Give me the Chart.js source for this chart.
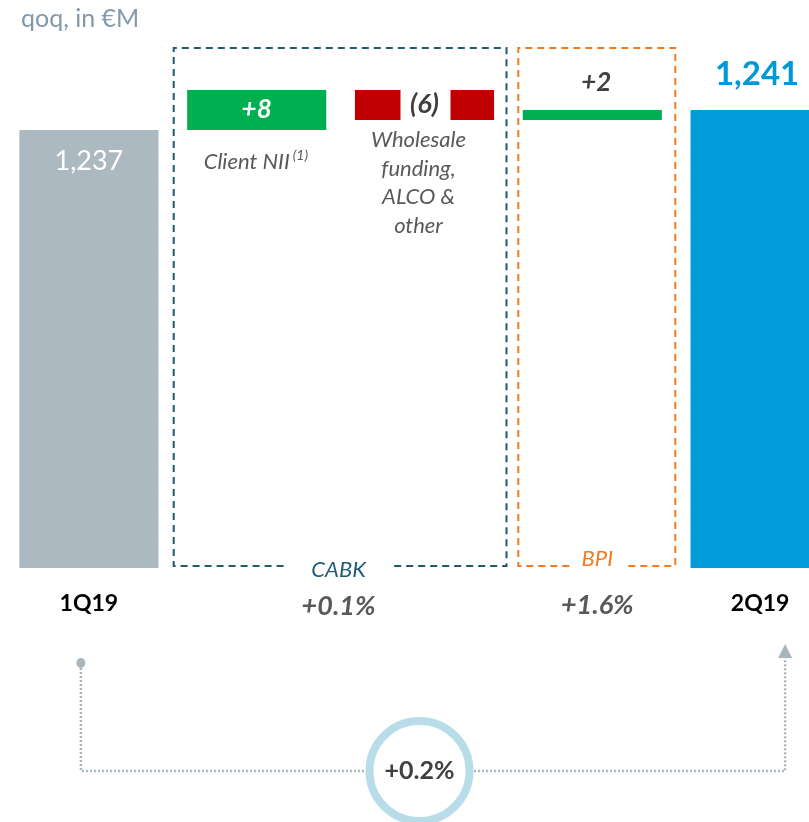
<!DOCTYPE html>
<html>
<head>
<meta charset="utf-8">
<script src="https://cdn.jsdelivr.net/npm/chart.js@4.4.1/dist/chart.umd.min.js"></script>
<style>
  html, body { margin: 0; padding: 0; background: #fff; overflow: hidden; }
  #wrap { position: relative; width: 850px; height: 822px; }
  #nii { display: block; }
  #title { position: absolute; left: 21px; top: 2px; font: 25px Lato, sans-serif; color: #8399ab; }
</style>
</head>
<body>
<div id="wrap">
  <canvas id="nii" width="850" height="822"></canvas>
  <div id="title">qoq, in €M</div>
</div>
<script>
// Data
const categories = ["1Q19", "Client NII", "Wholesale funding, ALCO & other", "BPI", "2Q19"];
const startValue = 1237;
const changes = [8, -6, 2];
const endValue = 1241;
const valueLabels = ["1,237", "+8", "(6)", "+2", "1,241"];
const segmentNames = ["CABK", "BPI"];
const segmentGrowth = ["+0.1%", "+1.6%"];
const totalGrowth = "+0.2%";

const axisMin = 1149.4;
const axisMax = 1253.4;

// floating bars for the waterfall
const ranges = [[axisMin, startValue]];
let running = startValue;
changes.forEach(c => {
  ranges.push([running, running + c]);
  running += c;
});
ranges.push([axisMin, endValue]);

const barColors = ["#adb9c1", "#00b050", "#c00000", "#00b050", "#009bd9"];
const FONT = "Lato, sans-serif";

function text(ctx, str, x, y, font, color, align) {
  ctx.font = font;
  ctx.fillStyle = color;
  ctx.textAlign = align || "center";
  ctx.textBaseline = "middle";
  ctx.fillText(str, x, y);
}

function dashedBox(ctx, l, t, r, b, color, gapL, gapR) {
  ctx.save();
  ctx.strokeStyle = color;
  ctx.lineWidth = 2;
  ctx.setLineDash([7, 5]);
  ctx.beginPath();
  ctx.moveTo(gapL, b);
  ctx.lineTo(l, b);
  ctx.lineTo(l, t);
  ctx.lineTo(r, t);
  ctx.lineTo(r, b);
  ctx.lineTo(gapR, b);
  ctx.stroke();
  ctx.restore();
}

const decorations = {
  id: "decorations",
  beforeDatasetsDraw(chart) {
    const ctx = chart.ctx;
    const x = chart.scales.x;
    const area = chart.chartArea;
    const c1 = x.getPixelForValue(1), c2 = x.getPixelForValue(2), c3 = x.getPixelForValue(3);
    const bottom = area.bottom - 2;
    dashedBox(ctx, c1 - 83, area.top, c2 + 82, bottom, "#1f5b73", (c1 + c2) / 2 - 57, (c1 + c2) / 2 + 53);
    dashedBox(ctx, c3 - 74, area.top, c3 + 83, bottom, "#f47a20", c3 - 23, c3 + 36);
  },
  afterDatasetsDraw(chart) {
    const ctx = chart.ctx;
    const x = chart.scales.x;
    const y = chart.scales.y;
    const px = i => x.getPixelForValue(i);

    // value labels
    text(ctx, valueLabels[0], px(0), y.getPixelForValue(startValue) + 31, "27px " + FONT, "#ffffff");
    text(ctx, valueLabels[1], px(1), y.getPixelForValue(startValue + changes[0] / 2), "italic bold 26px " + FONT, "#ffffff");
    const redMid = y.getPixelForValue(startValue + changes[0] + changes[1] / 2);
    ctx.fillStyle = "#ffffff";
    ctx.fillRect(px(2) - 24, redMid - 17, 50, 34);
    text(ctx, valueLabels[2], px(2), redMid - 1, "italic bold 27px " + FONT, "#404040");
    text(ctx, valueLabels[3], px(3) + 4, y.getPixelForValue(running) - 27, "italic bold 26px " + FONT, "#404040");
    text(ctx, valueLabels[4], px(4) - 3, y.getPixelForValue(endValue) - 36, "bold 33px " + FONT, "#0099d8");

    // category captions
    ctx.font = "italic 22px " + FONT;
    const w = ctx.measureText(categories[1]).width;
    text(ctx, categories[1], px(1) - 10, 162, "italic 22px " + FONT, "#595959");
    text(ctx, "(1)", px(1) - 10 + w / 2 + 3, 155, "italic 14px " + FONT, "#595959", "left");
    ["Wholesale", "funding,", "ALCO &", "other"].forEach((line, i) => {
      text(ctx, line, px(2) - 6, 140 + i * 28.5, "italic 22px " + FONT, "#595959");
    });

    // axis-style labels
    text(ctx, categories[0], px(0), 604, "bold 23px " + FONT, "#000000");
    text(ctx, categories[4], px(4), 604, "bold 23px " + FONT, "#000000");
    const mid12 = (px(1) + px(2)) / 2;
    text(ctx, segmentNames[0], mid12 - 2, 570, "italic 22px " + FONT, "#1f5b73");
    text(ctx, segmentNames[1], px(3) + 5, 559, "italic 22px " + FONT, "#f47a20");
    text(ctx, segmentGrowth[0], mid12 - 2, 606, "italic bold 27px " + FONT, "#595959");
    text(ctx, segmentGrowth[1], px(3) + 5, 605, "italic bold 27px " + FONT, "#595959");

    // total growth connector
    const lx = px(0) - 8, rx = px(4) + 25, ly = 771;
    ctx.save();
    ctx.strokeStyle = "#a9b6be";
    ctx.lineWidth = 2.5;
    ctx.setLineDash([2, 2]);
    ctx.beginPath();
    ctx.moveTo(lx, 664);
    ctx.lineTo(lx, ly);
    ctx.lineTo(rx, ly);
    ctx.lineTo(rx, 658);
    ctx.stroke();
    ctx.restore();
    ctx.fillStyle = "#a9b6be";
    ctx.beginPath();
    ctx.ellipse(lx, 663, 4.5, 5, 0, 0, Math.PI * 2);
    ctx.fill();
    ctx.beginPath();
    ctx.moveTo(rx, 644);
    ctx.lineTo(rx - 7, 658);
    ctx.lineTo(rx + 7, 658);
    ctx.closePath();
    ctx.fill();

    const cx = px(2) - 5;
    ctx.fillStyle = "#ffffff";
    ctx.beginPath();
    ctx.arc(cx, ly, 50, 0, Math.PI * 2);
    ctx.fill();
    ctx.strokeStyle = "#b8dde8";
    ctx.lineWidth = 8;
    ctx.beginPath();
    ctx.arc(cx, ly, 50, 0, Math.PI * 2);
    ctx.stroke();
    text(ctx, totalGrowth, cx, ly, "bold 25px " + FONT, "#404040");
  }
};

new Chart(document.getElementById("nii"), {
  type: "bar",
  data: {
    labels: categories,
    datasets: [{
      data: ranges,
      backgroundColor: barColors,
      borderWidth: 0,
      borderSkipped: false,
      barPercentage: 0.829,
      categoryPercentage: 1
    }]
  },
  options: {
    responsive: false,
    animation: false,
    maintainAspectRatio: false,
    layout: { padding: { left: 5, right: 6, top: 48, bottom: 254 } },
    plugins: { legend: { display: false }, tooltip: { enabled: false } },
    scales: {
      x: { display: false },
      y: { display: false, min: axisMin, max: axisMax }
    }
  },
  plugins: [decorations]
});
</script>
</body>
</html>
